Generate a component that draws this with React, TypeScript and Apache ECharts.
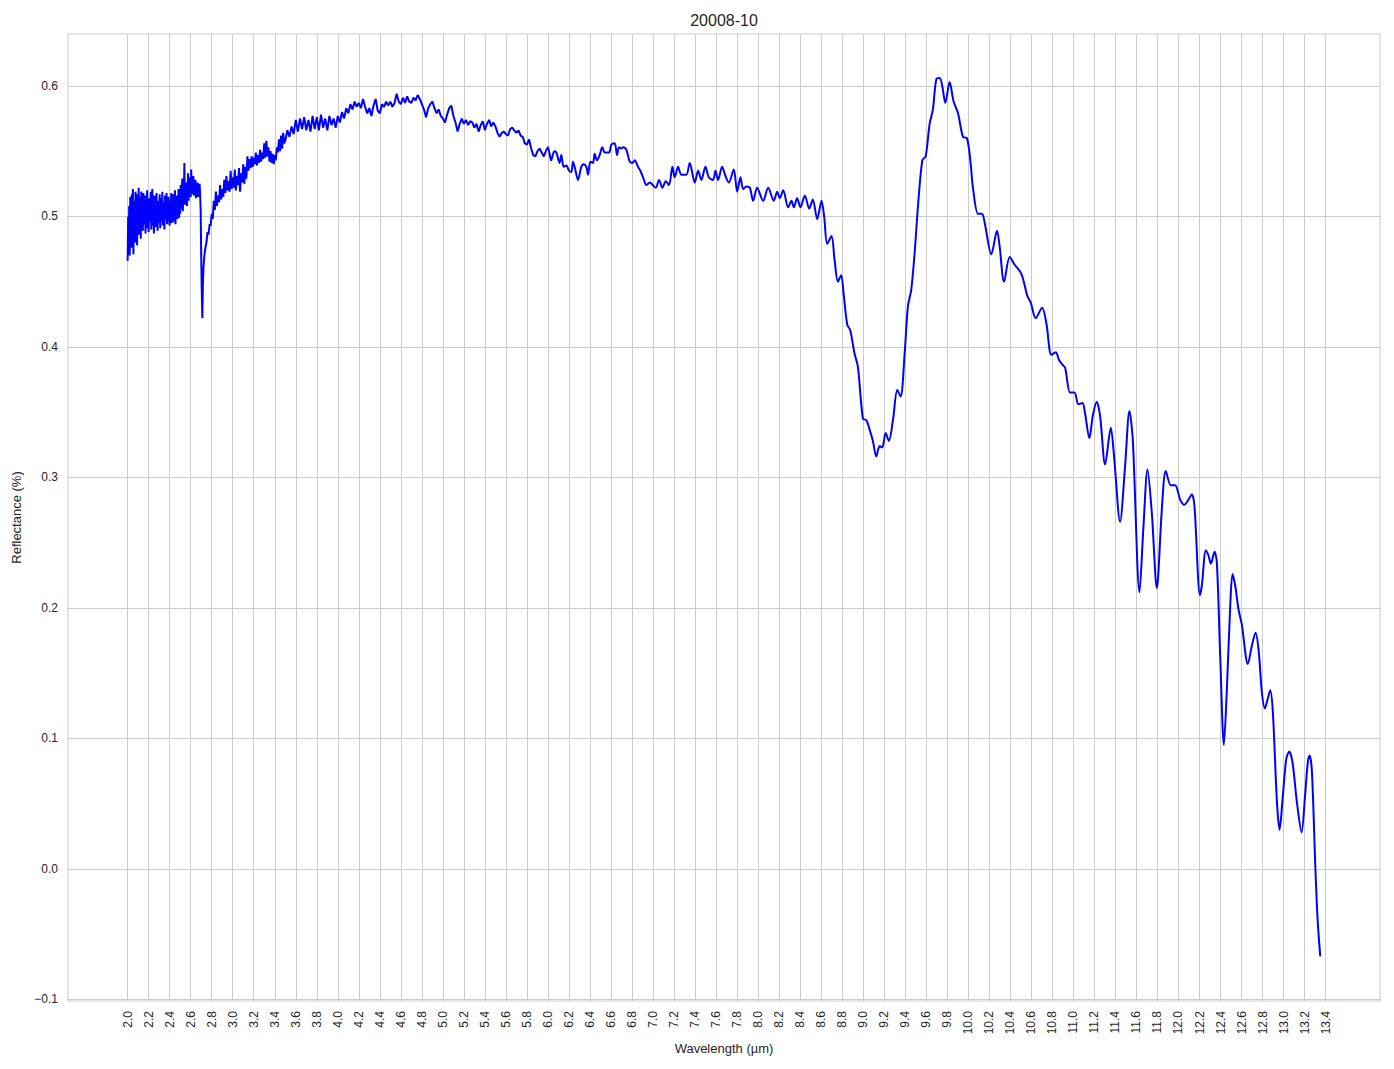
import React, { useEffect, useRef } from "react";
import * as echarts from "echarts";

const TITLE = "20008-10";
const X_NAME = "Wavelength (µm)";
const Y_NAME = "Reflectance (%)";

const xTickValues = [
  2.0, 2.2, 2.4, 2.6, 2.8, 3.0, 3.2, 3.4, 3.6, 3.8, 4.0, 4.2, 4.4, 4.6, 4.8,
  5.0, 5.2, 5.4, 5.6, 5.8, 6.0, 6.2, 6.4, 6.6, 6.8, 7.0, 7.2, 7.4, 7.6, 7.8,
  8.0, 8.2, 8.4, 8.6, 8.8, 9.0, 9.2, 9.4, 9.6, 9.8, 10.0, 10.2, 10.4, 10.6,
  10.8, 11.0, 11.2, 11.4, 11.6, 11.8, 12.0, 12.2, 12.4, 12.6, 12.8, 13.0,
  13.2, 13.4,
];
const yTickValues = [-0.1, 0.0, 0.1, 0.2, 0.3, 0.4, 0.5, 0.6];

// noisy segment A: 2.000 – 2.690 µm, sampled every 0.005 µm
const bandAStart = 2.0;
const bandAStep = 0.005;
const bandAValues = [
  0.466, 0.500, 0.482, 0.508, 0.470, 0.515, 0.490, 0.476, 0.517, 0.495, 0.521, 0.471, 0.505, 0.512, 0.480, 0.519, 0.489, 0.511, 0.478, 0.517,
  0.492, 0.522, 0.486, 0.508, 0.515, 0.483, 0.519, 0.497, 0.512, 0.489, 0.518, 0.503, 0.494, 0.516, 0.487, 0.511, 0.499, 0.520, 0.491, 0.509,
  0.488, 0.514, 0.501, 0.496, 0.519, 0.490, 0.510, 0.521, 0.493, 0.506, 0.487, 0.516, 0.500, 0.513, 0.492, 0.518, 0.497, 0.489, 0.512, 0.503,
  0.495, 0.517, 0.491, 0.508, 0.514, 0.496, 0.519, 0.493, 0.505, 0.511, 0.490, 0.516, 0.502, 0.498, 0.518, 0.494, 0.510, 0.500, 0.515, 0.497,
  0.493, 0.512, 0.502, 0.518, 0.495, 0.509, 0.517, 0.496, 0.514, 0.500, 0.520, 0.494, 0.508, 0.503, 0.516, 0.498, 0.512, 0.521, 0.499, 0.510,
  0.502, 0.524, 0.506, 0.517, 0.529, 0.504, 0.520, 0.511, 0.541, 0.509, 0.523, 0.513, 0.526, 0.508, 0.519, 0.533, 0.512, 0.524, 0.515, 0.530,
  0.515, 0.536, 0.517, 0.527, 0.519, 0.531, 0.516, 0.525, 0.520, 0.528, 0.514, 0.524, 0.519, 0.526, 0.515, 0.523, 0.518, 0.525, 0.516,
];

// absorption dip near 2.71 µm
const dipWaves = [2.695, 2.7, 2.705, 2.711, 2.716, 2.722, 2.73, 2.74];
const dipValues = [0.505, 0.47, 0.445, 0.422, 0.448, 0.461, 0.47, 0.476];

// noisy segment B: 2.75 – 3.49 µm, every 0.01 µm
const bandBStart = 2.75;
const bandBStep = 0.01;
const bandBValues = [
  0.480, 0.488, 0.486, 0.494, 0.493, 0.502, 0.498, 0.512, 0.505, 0.519,
  0.508, 0.516, 0.511, 0.524, 0.513, 0.521, 0.515, 0.528, 0.518, 0.531,
  0.520, 0.527, 0.519, 0.535, 0.521, 0.530, 0.522, 0.536, 0.520, 0.531,
  0.524, 0.537, 0.519, 0.533, 0.526, 0.540, 0.525, 0.538, 0.529, 0.546,
  0.535, 0.544, 0.537, 0.546, 0.538, 0.545, 0.540, 0.549, 0.539, 0.547,
  0.541, 0.551, 0.542, 0.549, 0.544, 0.556, 0.545, 0.558, 0.546, 0.553,
  0.542, 0.550, 0.541, 0.548, 0.540, 0.547, 0.543, 0.553, 0.549, 0.559,
  0.550, 0.562, 0.552, 0.564, 0.556,
];

// noisy segment C: 3.50 – 5.98 µm, every 0.02 µm
const bandCStart = 3.5;
const bandCStep = 0.02;
const bandCValues = [
  0.558, 0.566, 0.561, 0.569, 0.563, 0.574, 0.565, 0.575, 0.567, 0.576,
  0.566, 0.574, 0.565, 0.577, 0.567, 0.576, 0.566, 0.578, 0.568, 0.575,
  0.566, 0.577, 0.570, 0.575, 0.568, 0.577, 0.572, 0.580, 0.575, 0.583,
  0.579, 0.586, 0.582, 0.588, 0.584, 0.587, 0.583, 0.590, 0.584, 0.579,
  0.583, 0.577, 0.585, 0.590, 0.581, 0.579, 0.586, 0.584, 0.588, 0.585,
  0.588, 0.584, 0.587, 0.594, 0.588, 0.586, 0.591, 0.587, 0.592, 0.588,
  0.587, 0.591, 0.589, 0.593, 0.590, 0.586, 0.582, 0.576, 0.583, 0.586,
  0.588, 0.583, 0.579, 0.582, 0.577, 0.575, 0.572, 0.578, 0.583, 0.585,
  0.577, 0.572, 0.565, 0.571, 0.575, 0.571, 0.574, 0.570, 0.573, 0.572,
  0.568, 0.571, 0.565, 0.570, 0.573, 0.566, 0.571, 0.574, 0.569, 0.572,
  0.569, 0.564, 0.561, 0.564, 0.565, 0.563, 0.562, 0.567, 0.568, 0.566,
  0.564, 0.566, 0.562, 0.561, 0.556, 0.555, 0.559, 0.552, 0.547, 0.546,
  0.550, 0.552, 0.549, 0.546, 0.550,
];

// smooth segment D: 5.98 – 13.35 µm
const smoothWaves = [
  5.98, 6.0, 6.03, 6.06, 6.08, 6.11, 6.127, 6.149, 6.175, 6.2, 6.222, 6.238,
  6.254, 6.286, 6.317, 6.34, 6.365, 6.381, 6.403, 6.429, 6.444, 6.467, 6.492,
  6.517, 6.54, 6.581, 6.603, 6.635, 6.657, 6.676, 6.698, 6.714, 6.746, 6.778,
  6.803, 6.825, 6.857, 6.879, 6.905, 6.937, 6.968, 7.025, 7.057, 7.089, 7.121,
  7.152, 7.184, 7.206, 7.238, 7.27, 7.317, 7.349, 7.397, 7.429, 7.46, 7.498,
  7.53, 7.571, 7.594, 7.619, 7.657, 7.689, 7.721, 7.768, 7.8, 7.832, 7.857,
  7.889, 7.921, 7.952, 7.99, 8.048, 8.095, 8.149, 8.181, 8.206, 8.238, 8.286,
  8.317, 8.34, 8.371, 8.403, 8.444, 8.486, 8.52, 8.562, 8.603, 8.628, 8.657,
  8.698, 8.727, 8.759, 8.79, 8.813, 8.848, 8.876, 8.917, 8.949, 8.997, 9.029,
  9.067, 9.092, 9.124, 9.156, 9.181, 9.213, 9.244, 9.283, 9.324, 9.356, 9.394,
  9.425, 9.457, 9.489, 9.521, 9.562, 9.594, 9.632, 9.663, 9.695, 9.727, 9.752,
  9.781, 9.822, 9.86, 9.902, 9.949, 9.987, 10.019, 10.044, 10.092, 10.13,
  10.156, 10.219, 10.273, 10.298, 10.34, 10.394, 10.441, 10.505, 10.562,
  10.594, 10.641, 10.702, 10.743, 10.79, 10.832, 10.863, 10.889, 10.921,
  10.968, 11.01, 11.048, 11.086, 11.111, 11.152, 11.184, 11.222, 11.254,
  11.302, 11.356, 11.387, 11.444, 11.492, 11.533, 11.565, 11.629, 11.667,
  11.705, 11.746, 11.794, 11.841, 11.879, 11.927, 11.968, 12.016, 12.054,
  12.095, 12.127, 12.152, 12.204, 12.222, 12.26, 12.286, 12.308, 12.343,
  12.365, 12.397, 12.432, 12.46, 12.492, 12.514, 12.54, 12.571, 12.603, 12.66,
  12.698, 12.733, 12.762, 12.794, 12.822, 12.848, 12.873, 12.898, 12.937,
  12.962, 12.99, 13.025, 13.054, 13.086, 13.127, 13.171, 13.206, 13.232,
  13.248, 13.27, 13.302, 13.324, 13.349,
];
const smoothValues = [
  0.550, 0.553, 0.543, 0.550, 0.549, 0.541, 0.547, 0.538, 0.539, 0.535, 0.534, 0.542,
  0.538, 0.528, 0.538, 0.540, 0.538, 0.532, 0.542, 0.541, 0.548, 0.543, 0.547,
  0.553, 0.549, 0.549, 0.555, 0.556, 0.547, 0.553, 0.552, 0.553, 0.551, 0.542,
  0.541, 0.543, 0.538, 0.535, 0.530, 0.524, 0.526, 0.522, 0.528, 0.522, 0.527,
  0.524, 0.538, 0.530, 0.538, 0.532, 0.532, 0.541, 0.526, 0.535, 0.528, 0.538,
  0.530, 0.528, 0.535, 0.528, 0.538, 0.531, 0.526, 0.536, 0.519, 0.530, 0.521,
  0.523, 0.522, 0.512, 0.522, 0.512, 0.522, 0.512, 0.519, 0.514, 0.520, 0.507,
  0.512, 0.507, 0.514, 0.507, 0.516, 0.506, 0.513, 0.498, 0.512, 0.500, 0.479,
  0.485, 0.467, 0.450, 0.455, 0.441, 0.417, 0.413, 0.395, 0.385, 0.345, 0.344,
  0.335, 0.328, 0.316, 0.324, 0.323, 0.334, 0.328, 0.344, 0.367, 0.362, 0.395,
  0.431, 0.444, 0.472, 0.508, 0.543, 0.546, 0.571, 0.582, 0.605, 0.606, 0.600,
  0.587, 0.603, 0.588, 0.579, 0.561, 0.560, 0.543, 0.522, 0.502, 0.502,
  0.495, 0.471, 0.489, 0.477, 0.450, 0.469, 0.463, 0.456, 0.439,
  0.434, 0.422, 0.430, 0.418, 0.394, 0.396, 0.390, 0.387, 0.384,
  0.365, 0.365, 0.356, 0.357, 0.349, 0.330, 0.347, 0.358, 0.347,
  0.310, 0.338, 0.316, 0.266, 0.309, 0.351, 0.329, 0.212, 0.263,
  0.306, 0.273, 0.215, 0.275, 0.305, 0.294, 0.294, 0.283, 0.279,
  0.283, 0.287, 0.278, 0.210, 0.217, 0.244, 0.240, 0.234, 0.243,
  0.235, 0.163, 0.095, 0.137, 0.201, 0.226, 0.217, 0.199, 0.187, 0.157,
  0.171, 0.181, 0.168, 0.135, 0.123, 0.130, 0.137, 0.120, 0.051,
  0.030, 0.053, 0.084, 0.090, 0.081, 0.051, 0.028, 0.058, 0.083,
  0.087, 0.074, 0.002, -0.039, -0.067,
];

const FONT = "'Liberation Sans', Arial, 'DejaVu Sans', sans-serif";
const TEXT = "#262626";
const GRID_LINE = "#cccccc";
const LINE = "#0000ff";

function sampled(start: number, step: number, values: number[]) {
  return values.map((v, i) => [Number((start + i * step).toFixed(4)), v]);
}
function paired(waves: number[], values: number[]) {
  return waves.map((w, i) => [w, values[i]]);
}

export default function App() {
  const ref = useRef<HTMLDivElement>(null);
  useEffect(() => {
    if (!ref.current) return;
    const chart = echarts.init(ref.current, undefined, { renderer: "svg" });
    const noisy = [
      ...sampled(bandAStart, bandAStep, bandAValues),
      ...paired(dipWaves, dipValues),
      ...sampled(bandBStart, bandBStep, bandBValues),
      ...sampled(bandCStart, bandCStep, bandCValues),
    ];
    const smooth = paired(smoothWaves, smoothValues);
    chart.setOption({
      animation: false,
      backgroundColor: "#ffffff",
      textStyle: { fontFamily: FONT },
      graphic: [
        {
          type: "text",
          x: 724,
          y: 20,
          style: {
            text: TITLE,
            fontSize: 16,
            fontFamily: FONT,
            fill: TEXT,
            align: "center",
            verticalAlign: "middle",
          },
        },
      ],
      grid: {
        left: 68,
        right: 14,
        top: 34,
        bottom: 68,
        show: true,
        borderColor: GRID_LINE,
        borderWidth: 1,
        containLabel: false,
      },
      xAxis: {
        type: "value",
        min: 1.4325,
        max: 13.9175,
        name: X_NAME,
        nameLocation: "middle",
        nameGap: 40,
        nameTextStyle: { fontSize: 13, color: TEXT, fontFamily: FONT },
        axisLine: { show: false },
        axisTick: { show: false, customValues: xTickValues },
        axisLabel: {
          customValues: xTickValues,
          rotate: 90,
          margin: 10,
          fontSize: 12,
          color: TEXT,
          fontFamily: FONT,
          formatter: (v: number) => v.toFixed(1),
        },
        splitLine: { show: true, lineStyle: { color: GRID_LINE, width: 1 } },
      },
      yAxis: {
        type: "value",
        min: -0.1012,
        max: 0.6398,
        name: Y_NAME,
        nameLocation: "middle",
        nameGap: 44,
        nameTextStyle: { fontSize: 13, color: TEXT, fontFamily: FONT },
        axisLine: { show: false },
        axisTick: { show: false, customValues: yTickValues },
        axisLabel: {
          customValues: yTickValues,
          margin: 10,
          fontSize: 12,
          color: TEXT,
          fontFamily: FONT,
          formatter: (v: number) =>
            (v < -1e-9 ? "\u2212" : "") + Math.abs(v).toFixed(1),
        },
        splitLine: { show: true, lineStyle: { color: GRID_LINE, width: 1 } },
      },
      series: [
        {
          type: "line",
          data: noisy,
          showSymbol: false,
          symbol: "none",
          smooth: false,
          silent: true,
          lineStyle: { color: LINE, width: 2 },
          emphasis: { disabled: true },
        },
        {
          type: "line",
          data: smooth,
          showSymbol: false,
          symbol: "none",
          smooth: 0.3,
          silent: true,
          lineStyle: { color: LINE, width: 2 },
          emphasis: { disabled: true },
        },
      ],
    });
    return () => chart.dispose();
  }, []);
  return (
    <div
      ref={ref}
      style={{ position: "fixed", left: 0, top: 0, width: 1394, height: 1069 }}
    />
  );
}
